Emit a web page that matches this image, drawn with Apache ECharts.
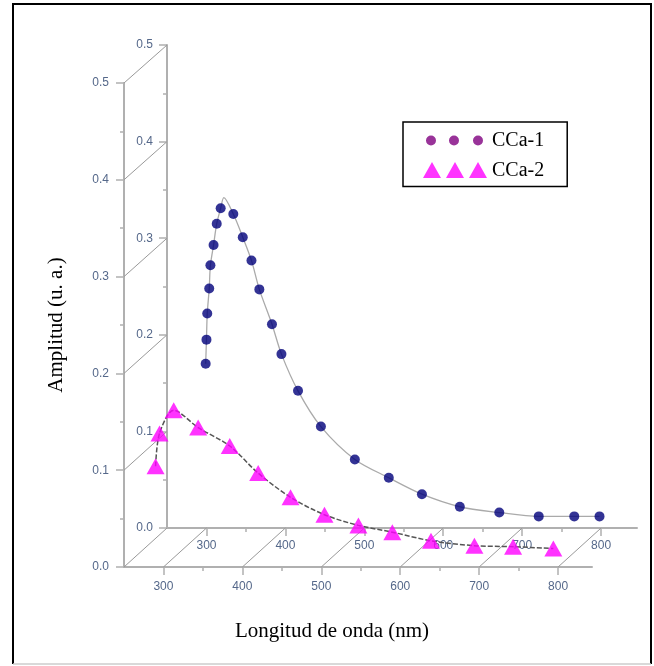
<!DOCTYPE html>
<html>
<head>
<meta charset="utf-8">
<script src="https://cdn.jsdelivr.net/npm/echarts@6/dist/echarts.min.js"></script>
<style>
html,body{margin:0;padding:0;background:#fff}
#main{width:654px;height:666px}
</style>
</head>
<body>
<div id="main"></div>
<script>
// CCa-1, drawn on the back plane
var wl1 = [299, 300, 301, 303.5, 305, 309, 313, 318, 334, 346, 357, 367, 383, 395, 416, 445, 488, 531, 573, 621, 671, 721, 766, 798];
var amp1 = [0.170, 0.195, 0.222, 0.248, 0.272, 0.293, 0.315, 0.331, 0.325, 0.301, 0.277, 0.247, 0.211, 0.180, 0.142, 0.105, 0.071, 0.052, 0.035, 0.022, 0.016, 0.012, 0.012, 0.012];
// gray fit curve of CCa-1 (with its peak)
var fitWl1 = [299, 300, 301, 303.5, 305, 309, 313, 318, 322, 334, 346, 357, 367, 383, 395, 416, 445, 488, 531, 573, 621, 671, 721, 766, 798];
var fitAmp1 = [0.170, 0.195, 0.222, 0.248, 0.272, 0.293, 0.315, 0.331, 0.342, 0.325, 0.301, 0.277, 0.247, 0.211, 0.180, 0.142, 0.105, 0.071, 0.052, 0.035, 0.022, 0.016, 0.012, 0.012, 0.012];
// CCa-2, drawn on the front plane
var wl2 = [290, 295, 313, 344, 384, 420, 461, 504, 547, 590, 639, 694, 743, 794];
var amp2 = [0.104, 0.138, 0.162, 0.144, 0.125, 0.097, 0.072, 0.054, 0.043, 0.036, 0.027, 0.022, 0.021, 0.019];

var majorWl = [300, 400, 500, 600, 700, 800];
var minorWl = [350, 450, 550, 650, 750];
var ampTicks = [0, 0.1, 0.2, 0.3, 0.4, 0.5];

function pairs(xs, ys) {
    var res = [];
    for (var i = 0; i < xs.length; i++) {
        res.push([xs[i], ys[i]]);
    }
    return res;
}

var gray = '#b0b0b0';
var labelStyle = {color: '#55688a', fontSize: 12, fontFamily: 'Liberation Sans'};
var titleStyle = {color: '#000', fontSize: 21, fontFamily: 'Liberation Serif'};

function mainX(grid, max, margin) {
    return {
        type: 'value', gridIndex: grid, min: 250, max: max,
        axisLine: {lineStyle: {color: gray, width: 2}},
        axisTick: {customValues: majorWl, length: 8, lineStyle: {color: gray, width: 1.5}},
        axisLabel: Object.assign({customValues: majorWl, margin: margin}, labelStyle),
        splitLine: {show: false}
    };
}
function minorX(grid, max) {
    return {
        type: 'value', gridIndex: grid, min: 250, max: max,
        axisLine: {show: false},
        axisTick: {customValues: minorWl, length: 4, lineStyle: {color: gray, width: 1.5}},
        axisLabel: {show: false},
        splitLine: {show: false}
    };
}
function mainY(grid, margin) {
    return {
        type: 'value', gridIndex: grid, min: 0, max: 0.5, interval: 0.1,
        axisLine: {show: true, lineStyle: {color: gray, width: 2}},
        axisTick: {show: true, length: 8, lineStyle: {color: gray, width: 1.5}},
        minorTick: {show: true, splitNumber: 2, length: 4, lineStyle: {color: gray, width: 1.5}},
        axisLabel: Object.assign({margin: margin, formatter: function (v) { return v.toFixed(1); }}, labelStyle),
        splitLine: {show: false}
    };
}

var circlesIcon = 'path://M0,0L0.001,0Z M64,17L63.999,17Z' +
    'M3,8.5a5,5 0 1,0 10,0a5,5 0 1,0 -10,0Z' +
    'M26,8.5a5,5 0 1,0 10,0a5,5 0 1,0 -10,0Z' +
    'M50,8.5a5,5 0 1,0 10,0a5,5 0 1,0 -10,0Z';
var trianglesIcon = 'path://M0,16L9,0L18,16Z M23,16L32,0L41,16Z M46,16L55,0L64,16Z M0,0L0.001,0Z M64,17L63.999,17Z';

var xFront = mainX(0, 843, 14);
xFront.name = 'Longitud de onda (nm)';
xFront.nameLocation = 'middle';
xFront.nameGap = 54;
xFront.nameTextStyle = Object.assign({padding: [0, 52, 0, 0]}, titleStyle);

var yFront = mainY(0, 15);
yFront.name = 'Amplitud (u. a.)';
yFront.nameLocation = 'middle';
yFront.nameGap = 57;
yFront.nameTextStyle = titleStyle;

var option = {
    animation: false,
    backgroundColor: '#fff',
    grid: [
        {left: 124, top: 83, width: 468, height: 484},
        {left: 167, top: 45, width: 470, height: 483},
        {left: 124, top: 83, width: 468, height: 484},
        {left: 167, top: 45, width: 470, height: 483}
    ],
    xAxis: [xFront, mainX(1, 845.5, 12), minorX(2, 843), minorX(3, 845.5)],
    yAxis: [yFront, mainY(1, 14),
        {type: 'value', gridIndex: 2, min: 0, max: 0.5, show: false},
        {type: 'value', gridIndex: 3, min: 0, max: 0.5, show: false}],
    legend: {
        orient: 'vertical',
        left: 403, top: 122,
        padding: [8.5, 23, 6, 20],
        itemWidth: 64, itemHeight: 17, itemGap: 10,
        borderColor: '#000', borderWidth: 1.5,
        textStyle: {color: '#000', fontSize: 20, lineHeight: 17, fontFamily: 'Liberation Serif'},
        data: [
            {name: 'CCa-1', icon: circlesIcon, itemStyle: {color: '#800080'}},
            {name: 'CCa-2', icon: trianglesIcon, itemStyle: {color: '#ff00ff'}}
        ]
    },
    series: [
        {
            type: 'line', xAxisIndex: 1, yAxisIndex: 1,
            data: pairs(fitWl1, fitAmp1), smooth: 0.3, showSymbol: false, silent: true,
            lineStyle: {color: '#aaa', width: 1.3}, z: 2
        },
        {
            name: 'CCa-1', type: 'scatter', xAxisIndex: 1, yAxisIndex: 1,
            data: pairs(wl1, amp1), symbol: 'circle', symbolSize: 10,
            itemStyle: {color: '#00007a'}, z: 3
        },
        {
            type: 'line', xAxisIndex: 0, yAxisIndex: 0,
            data: pairs(wl2, amp2), smooth: 0.3, showSymbol: false, silent: true,
            lineStyle: {color: '#555', width: 1.5, type: [5, 2]}, z: 4
        },
        {
            name: 'CCa-2', type: 'scatter', xAxisIndex: 0, yAxisIndex: 0,
            data: pairs(wl2, amp2), symbol: 'triangle', symbolSize: [18, 16],
            itemStyle: {color: '#ff00ff'}, z: 5
        }
    ]
};

var myChart = echarts.init(document.getElementById('main'));
myChart.setOption(option);

// lines joining the front axes to the back axes
var links = [];
function link(a, b) {
    links.push({
        type: 'line', z: 1,
        shape: {x1: a[0], y1: a[1], x2: b[0], y2: b[1]},
        style: {stroke: '#999', lineWidth: 1}
    });
}
ampTicks.forEach(function (v) {
    link(myChart.convertToPixel({gridIndex: 0}, [250, v]), myChart.convertToPixel({gridIndex: 1}, [250, v]));
});
majorWl.forEach(function (w) {
    link(myChart.convertToPixel({gridIndex: 0}, [w, 0]), myChart.convertToPixel({gridIndex: 1}, [w, 0]));
});
// frame round the figure
links.push({type: 'polyline', z: 1, shape: {points: [[13, 664], [13, 4], [651, 4], [651, 664]]}, style: {stroke: '#000', lineWidth: 2, fill: null}});
links.push({type: 'line', z: 1, shape: {x1: 13, y1: 664, x2: 651, y2: 664}, style: {stroke: '#ccc', lineWidth: 1.5}});
myChart.setOption({graphic: links});
</script>
</body>
</html>
